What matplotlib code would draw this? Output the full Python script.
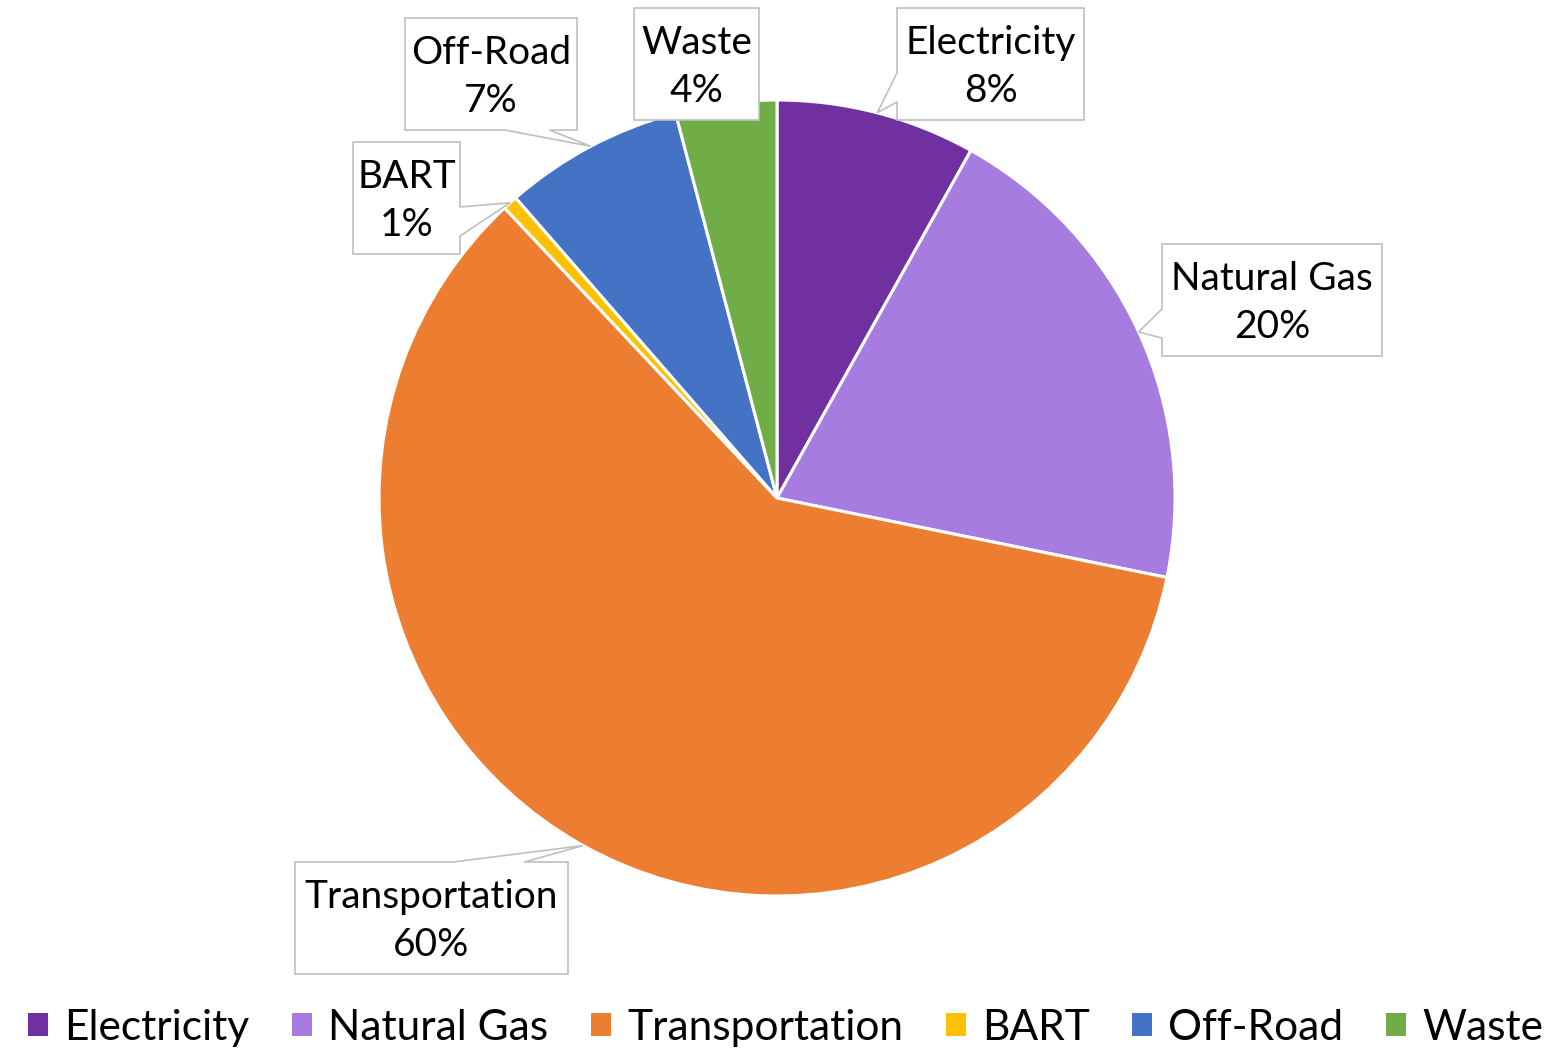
import numpy as np
import matplotlib.pyplot as plt
from matplotlib.patches import Polygon, Patch

plt.rcParams['font.family'] = ['Lato', 'DejaVu Sans']

categories = ['Electricity', 'Natural Gas', 'Transportation', 'BART', 'Off-Road', 'Waste']
shares = [8.1, 20.1, 59.8, 0.6, 7.3, 4.1]
colors = ['#7030A0', '#A67CE0', '#ED7D31', '#FFC000', '#4472C4', '#70AD47']

W, H = 1562, 1049
cx, cy, R = 777, 498, 398  # pie centre / radius in image pixels

# callout boxes (image pixels): left, top, right, bottom, side where the pointer leaves
boxes = {
    'Electricity': (897, 8, 1084, 120, 'left'),
    'Natural Gas': (1162, 244, 1382, 356, 'left'),
    'Transportation': (295, 862, 568, 974, 'top'),
    'BART': (353, 142, 460, 254, 'right'),
    'Off-Road': (405, 18, 577, 130, 'bottom'),
    'Waste': (634, 8, 759, 120, None),
}


def Y(py):
    return H - py


fig = plt.figure(figsize=(W / 100, H / 100), dpi=100)
ax = fig.add_axes([0, 0, 1, 1])
wedges, _ = ax.pie(shares, colors=colors, startangle=90, counterclock=False,
                   radius=R, center=(cx, Y(cy)),
                   wedgeprops=dict(edgecolor='white', linewidth=2.2))
ax.set_xlim(0, W)
ax.set_ylim(0, H)
ax.set_aspect('equal')
ax.axis('off')

for w, name, v in zip(wedges, categories, shares):
    x0, t0, x1, b0, side = boxes[name]
    y_top, y_bot = Y(t0), Y(b0)
    pts = [(x0, y_top), (x1, y_top), (x1, y_bot), (x0, y_bot)]
    if side is not None:
        mid = np.deg2rad((w.theta1 + w.theta2) / 2)
        tip = (cx + R * np.cos(mid), Y(cy) + R * np.sin(mid))
        f1, f2 = 0.58, 0.84
        if side == 'left':
            ya, yb = y_top - f1 * (y_top - y_bot), y_top - f2 * (y_top - y_bot)
            pts = [(x0, y_top), (x1, y_top), (x1, y_bot), (x0, y_bot), (x0, yb), tip, (x0, ya)]
        elif side == 'right':
            ya, yb = y_top - f1 * (y_top - y_bot), y_top - f2 * (y_top - y_bot)
            pts = [(x0, y_top), (x1, y_top), (x1, ya), tip, (x1, yb), (x1, y_bot), (x0, y_bot)]
        elif side == 'top':
            xa, xb = x0 + f1 * (x1 - x0), x0 + f2 * (x1 - x0)
            pts = [(x0, y_top), (xa, y_top), tip, (xb, y_top), (x1, y_top), (x1, y_bot), (x0, y_bot)]
        elif side == 'bottom':
            xa, xb = x0 + f1 * (x1 - x0), x0 + f2 * (x1 - x0)
            pts = [(x0, y_top), (x1, y_top), (x1, y_bot), (xb, y_bot), tip, (xa, y_bot), (x0, y_bot)]
    ax.add_patch(Polygon(pts, closed=True, facecolor='white', edgecolor='#BFBFBF',
                         linewidth=1.2, zorder=5))
    ax.text((x0 + x1) / 2, (y_top + y_bot) / 2 - 3, f'{name}\n{int(v + 0.5)}%',
            ha='center', va='center', fontsize=28, linespacing=1.42, zorder=6)

handles = [Patch(facecolor=c, edgecolor='none') for c in colors]
fig.legend(handles, categories, loc='lower center', ncol=6, frameon=False,
           fontsize=30.6, handlelength=0.47, handleheight=0.47, handletextpad=0.38,
           columnspacing=1.0, bbox_to_anchor=(0.503, -0.014), borderaxespad=0)

plt.savefig('out.png', dpi=100)
